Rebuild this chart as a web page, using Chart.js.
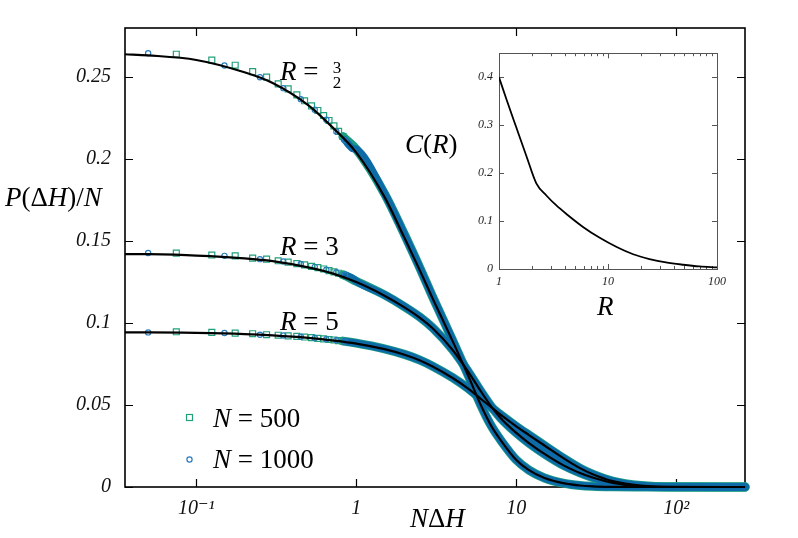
<!DOCTYPE html>
<html><head><meta charset="utf-8">
<script src="https://cdn.jsdelivr.net/npm/chart.js@4.4.0/dist/chart.umd.min.js"></script>
<style>
html,body{margin:0;padding:0;background:#fff;}
#wrap{position:relative;width:798px;height:538px;overflow:hidden;}
#main{position:absolute;left:0;top:0;}
#inset{position:absolute;left:440px;top:40px;}
</style></head><body>
<div id="wrap"><canvas id="main" width="798" height="538"></canvas><canvas id="inset" width="300" height="290"></canvas></div>
<script>
// ---------- main panel data ----------
const xTickValues = [0.1, 1, 10, 100];
const xTickLabels = ['10\u207B\u00B9', '1', '10', '10\u00B2'];
const yTickValues = [0, 0.05, 0.1, 0.15, 0.2, 0.25];

// theory curves
const curveX   = [0.0358, 0.05, 0.1, 0.2, 0.3, 0.5, 0.7, 1, 1.5, 2, 2.5, 3, 4, 5, 6, 7, 8, 10, 12, 15, 20, 25, 30, 40, 60, 100, 269];
const curveR15 = [0.2640, 0.2633, 0.2605, 0.2530, 0.2465, 0.2330, 0.2200, 0.2040, 0.1770, 0.1520, 0.1320, 0.1150, 0.0890, 0.0680, 0.0500, 0.0370, 0.0285, 0.0165, 0.0103, 0.0055, 0.0022, 0.0009, 0.0004, 0.0001, 0, 0, 0];
const curveR3  = [0.1421, 0.1420, 0.1412, 0.1395, 0.1378, 0.1340, 0.1305, 0.1250, 0.1167, 0.1096, 0.1032, 0.0968, 0.0836, 0.0704, 0.0584, 0.0489, 0.0420, 0.0330, 0.0268, 0.0202, 0.0129, 0.0086, 0.0058, 0.0025, 0.0004, 0, 0];
const curveR5  = [0.0943, 0.0943, 0.0940, 0.0933, 0.0925, 0.0910, 0.0895, 0.0875, 0.0841, 0.0807, 0.0772, 0.0735, 0.0665, 0.0600, 0.0538, 0.0485, 0.0440, 0.0370, 0.0317, 0.0253, 0.0172, 0.0115, 0.0078, 0.0036, 0.0009, 0.0001, 0];

// simulation, N = 500 (isolated points at small N dH)
const sim500X   = [0.075, 0.125, 0.175, 0.225, 0.275, 0.325, 0.375, 0.425, 0.475, 0.525, 0.575, 0.625, 0.675, 0.725, 0.775, 0.825];
const sim500R15 = [0.2640, 0.2604, 0.2573, 0.2534, 0.2500, 0.2459, 0.2429, 0.2392, 0.2356, 0.2325, 0.2297, 0.2266, 0.2236, 0.2203, 0.2169, 0.2138];
const sim500R3  = [0.1427, 0.1415, 0.1410, 0.1396, 0.1390, 0.1380, 0.1372, 0.1363, 0.1355, 0.1346, 0.1338, 0.1330, 0.1320, 0.1312, 0.1304, 0.1295];
const sim500R5  = [0.0947, 0.0943, 0.0939, 0.0935, 0.0929, 0.0926, 0.0922, 0.0919, 0.0915, 0.0911, 0.0907, 0.0904, 0.0900, 0.0897, 0.0893, 0.0890];
// simulation, N = 1000
const sim1000X   = [0.05, 0.15, 0.25, 0.35, 0.45, 0.55, 0.65, 0.75, 0.85, 0.95];
const sim1000R15 = [0.2646, 0.2571, 0.2500, 0.2433, 0.2366, 0.2301, 0.2240, 0.2169, 0.2115, 0.2065];
const sim1000R3  = [0.1427, 0.1410, 0.1390, 0.1376, 0.1360, 0.1343, 0.1326, 0.1310, 0.1292, 0.1272];
const sim1000R5  = [0.0943, 0.0939, 0.0929, 0.0924, 0.0917, 0.0909, 0.0902, 0.0895, 0.0888, 0.0881];
// simulation, dense region (points merge into a band), both N
const bandX   = [1, 1.5, 2, 2.5, 3, 4, 5, 6, 7, 8, 10, 12, 15, 20, 25, 30, 40, 60, 100, 269];
const bandR15 = [0.2060, 0.1790, 0.1540, 0.1335, 0.1160, 0.0895, 0.0682, 0.0500, 0.0370, 0.0285, 0.0165, 0.0103, 0.0055, 0.0022, 0.0009, 0.0004, 0.0001, 0, 0, 0];
const bandR3  = [0.1255, 0.1172, 0.1100, 0.1036, 0.0971, 0.0838, 0.0705, 0.0584, 0.0489, 0.0420, 0.0330, 0.0268, 0.0202, 0.0129, 0.0086, 0.0058, 0.0025, 0.0004, 0, 0];
const bandR5  = [0.0878, 0.0843, 0.0809, 0.0774, 0.0737, 0.0667, 0.0601, 0.0538, 0.0485, 0.0440, 0.0370, 0.0317, 0.0253, 0.0172, 0.0115, 0.0078, 0.0036, 0.0009, 0.0001, 0];

// ---------- inset data ----------
const insetR = [1, 1.17, 1.44, 1.78, 2.2, 2.72, 3.36, 4.15, 5.9, 8.4, 11.9, 17, 24, 34, 49, 69, 100];
const insetC = [0.400, 0.3538, 0.2955, 0.2363, 0.1786, 0.1533, 0.1325, 0.1148, 0.0878, 0.0650, 0.0463, 0.0307, 0.0208, 0.0137, 0.0089, 0.0054, 0.0033];
const insetXTicks = [1, 10, 100];
const insetYTicks = [0, 0.1, 0.2, 0.3, 0.4];

// ---------- styling ----------
const SERIF = '"Liberation Serif", "DejaVu Serif", serif';
const COL500 = '#22a07c', COL1000 = '#2a7bbd';
const BAND500 = '#1c9c84', BAND1000 = '#0d6ca8';

function pts(xs, ys) { return xs.map((x, i) => ({x: x, y: ys[i]})); }

function simSet(xs, ys, bx, by, isSquare) {
  const col = isSquare ? COL500 : COL1000;
  const band = isSquare ? BAND500 : BAND1000;
  return {
    data: pts(xs.concat(bx), ys.concat(by)),
    showLine: true,
    borderWidth: isSquare ? 9 : 7.4,
    borderCapStyle: 'round',
    borderJoinStyle: 'round',
    borderColor: band,
    segment: { borderColor: c => (c.p0.parsed.x >= 0.8 ? band : 'rgba(0,0,0,0)') },
    cubicInterpolationMode: 'monotone',
    pointStyle: isSquare ? 'rect' : 'circle',
    pointRadius: c => (c.raw && c.raw.x < 0.9 ? (isSquare ? 4.2 : 2.6) : 0),
    pointBorderColor: col,
    pointBackgroundColor: 'rgba(0,0,0,0)',
    pointBorderWidth: 1.2,
    order: isSquare ? 2 : 1,
    clip: 8
  };
}
function curveSet(ys) {
  return {
    data: pts(curveX, ys), showLine: true, borderColor: '#000', borderWidth: 2.2,
    pointRadius: 0, cubicInterpolationMode: 'monotone', order: 0, clip: 8
  };
}

function drawParts(ctx, parts, x, y, size) {
  let cx = x;
  for (const p of parts) {
    ctx.font = (p[1] ? 'italic ' : '') + size + 'px ' + SERIF;
    ctx.fillText(p[0], cx, y);
    cx += ctx.measureText(p[0]).width;
  }
}

const mainFrame = {
  id: 'mainFrame',
  beforeDatasetsDraw(chart) {
    const {ctx, chartArea: a, scales: {x, y}} = chart;
    ctx.save();
    ctx.strokeStyle = '#000';
    ctx.lineWidth = 1.6;
    ctx.strokeRect(a.left, a.top, a.right - a.left, a.bottom - a.top);
    ctx.lineWidth = 1.2;
    ctx.beginPath();
    for (const v of xTickValues) {
      const px = Math.round(x.getPixelForValue(v)) + 0.5;
      ctx.moveTo(px, a.bottom); ctx.lineTo(px, a.bottom - 8);
      ctx.moveTo(px, a.top); ctx.lineTo(px, a.top + 8);
    }
    for (const v of yTickValues) {
      const py = Math.round(y.getPixelForValue(v)) + 0.5;
      ctx.moveTo(a.left, py); ctx.lineTo(a.left + 8, py);
      ctx.moveTo(a.right, py); ctx.lineTo(a.right - 8, py);
    }
    ctx.stroke();
    ctx.restore();
  },
  afterDatasetsDraw(chart) {
    const ctx = chart.ctx;
    ctx.save();
    ctx.fillStyle = '#000';
    ctx.textBaseline = 'alphabetic';
    ctx.textAlign = 'left';
    const S = 27;
    // curve labels
    drawParts(ctx, [['R', true], [' = ', false]], 280, 80, S);
    ctx.font = '17px ' + SERIF; ctx.textAlign = 'center';
    ctx.fillText('3', 337, 73);
    ctx.fillText('2', 337, 88);
    ctx.textAlign = 'left';
    drawParts(ctx, [['R', true], [' = 3', false]], 280, 255, S);
    drawParts(ctx, [['R', true], [' = 5', false]], 280, 330, S);
    drawParts(ctx, [['C', true], ['(', false], ['R', true], [')', false]], 405, 153, S);
    // axis titles
    drawParts(ctx, [['P', true], ['(\u0394', false], ['H', true], [')/', false], ['N', true]], 5, 206, S);
    drawParts(ctx, [['N', true], ['\u0394', false], ['H', true]], 410, 527, S);
    // legend
    ctx.strokeStyle = COL500; ctx.lineWidth = 1.2;
    ctx.strokeRect(186.5, 414.5, 6, 6);
    ctx.strokeStyle = COL1000;
    ctx.beginPath(); ctx.arc(189.5, 459.5, 2.6, 0, Math.PI * 2); ctx.stroke();
    drawParts(ctx, [['N', true], [' = 500', false]], 213, 427, S);
    drawParts(ctx, [['N', true], [' = 1000', false]], 213, 468, S);
    ctx.restore();
  }
};

new Chart(document.getElementById('main'), {
  type: 'scatter',
  data: {
    datasets: [
      curveSet(curveR15), curveSet(curveR3), curveSet(curveR5),
      simSet(sim1000X, sim1000R15, bandX, bandR15, false),
      simSet(sim1000X, sim1000R3, bandX, bandR3, false),
      simSet(sim1000X, sim1000R5, bandX, bandR5, false),
      simSet(sim500X, sim500R15, bandX, bandR15, true),
      simSet(sim500X, sim500R3, bandX, bandR3, true),
      simSet(sim500X, sim500R5, bandX, bandR5, true)
    ]
  },
  options: {
    responsive: false, animation: false, devicePixelRatio: 1,
    layout: { padding: { left: 0, right: 53, top: 28, bottom: 0 } },
    plugins: { legend: { display: false }, tooltip: { enabled: false } },
    scales: {
      x: {
        type: 'logarithmic', min: 0.03584, max: 268.8,
        afterBuildTicks: s => { s.ticks = xTickValues.map(v => ({value: v})); },
        afterFit: s => { s.height = 51; },
        grid: { display: false, drawTicks: false }, border: { display: false },
        ticks: { padding: 10, color: '#111', font: { family: SERIF, size: 20, style: 'italic' },
          maxRotation: 0, autoSkip: false,
          callback: v => { const i = xTickValues.indexOf(v); return i >= 0 ? xTickLabels[i] : ''; } }
      },
      y: {
        type: 'linear', min: 0, max: 0.28,
        afterBuildTicks: s => { s.ticks = yTickValues.map(v => ({value: v})); },
        afterFit: s => { s.width = 125; },
        grid: { display: false, drawTicks: false }, border: { display: false },
        ticks: { padding: 14, color: '#111', font: { family: SERIF, size: 20, style: 'italic' },
          callback: v => String(Math.round(v * 100) / 100) }
      }
    }
  },
  plugins: [mainFrame]
});

// ---------- inset ----------
const insetFrame = {
  id: 'insetFrame',
  beforeDatasetsDraw(chart) {
    const {ctx, chartArea: a, scales: {x, y}} = chart;
    ctx.save();
    ctx.strokeStyle = '#555';
    ctx.lineWidth = 1;
    ctx.strokeRect(Math.round(a.left) + 0.5, Math.round(a.top) + 0.5, Math.round(a.right - a.left), Math.round(a.bottom - a.top));
    ctx.beginPath();
    for (let d = 1; d < 100; d *= 10) {
      for (let k = 1; k <= 10; k++) {
        const v = d * k;
        if (v > 100) continue;
        const len = (k === 1 || k === 10) ? 5 : 3;
        const px = Math.round(x.getPixelForValue(v)) + 0.5;
        ctx.moveTo(px, a.bottom); ctx.lineTo(px, a.bottom - len);
        ctx.moveTo(px, a.top); ctx.lineTo(px, a.top + len);
      }
    }
    for (const v of insetYTicks) {
      const py = Math.round(y.getPixelForValue(v)) + 0.5;
      ctx.moveTo(a.left, py); ctx.lineTo(a.left + 5, py);
      ctx.moveTo(a.right, py); ctx.lineTo(a.right - 5, py);
    }
    ctx.stroke();
    ctx.restore();
  },
  afterDraw(chart) {
    const ctx = chart.ctx;
    ctx.save();
    ctx.fillStyle = '#000';
    ctx.textAlign = 'left';
    drawParts(ctx, [['R', true]], 157, 275, 27);
    ctx.restore();
  }
};

new Chart(document.getElementById('inset'), {
  type: 'scatter',
  data: { datasets: [{
    data: pts(insetR, insetC), showLine: true, borderColor: '#000', borderWidth: 1.8,
    pointRadius: 0, cubicInterpolationMode: 'monotone'
  }]},
  options: {
    responsive: false, animation: false, devicePixelRatio: 1,
    layout: { padding: { left: 0, right: 23, top: 12, bottom: 0 } },
    plugins: { legend: { display: false }, tooltip: { enabled: false } },
    scales: {
      x: {
        type: 'logarithmic', min: 1, max: 100,
        afterBuildTicks: s => { s.ticks = insetXTicks.map(v => ({value: v})); },
        afterFit: s => { s.height = 61; },
        grid: { display: false, drawTicks: false }, border: { display: false },
        ticks: { padding: 6, color: '#222', font: { family: SERIF, size: 12, style: 'italic' },
          maxRotation: 0, autoSkip: false, callback: v => String(v) }
      },
      y: {
        type: 'linear', min: 0, max: 0.45,
        afterBuildTicks: s => { s.ticks = insetYTicks.map(v => ({value: v})); },
        afterFit: s => { s.width = 59; },
        grid: { display: false, drawTicks: false }, border: { display: false },
        ticks: { padding: 6, color: '#222', font: { family: SERIF, size: 12, style: 'italic' },
          callback: v => String(Math.round(v * 10) / 10) }
      }
    }
  },
  plugins: [insetFrame]
});
</script></body></html>
